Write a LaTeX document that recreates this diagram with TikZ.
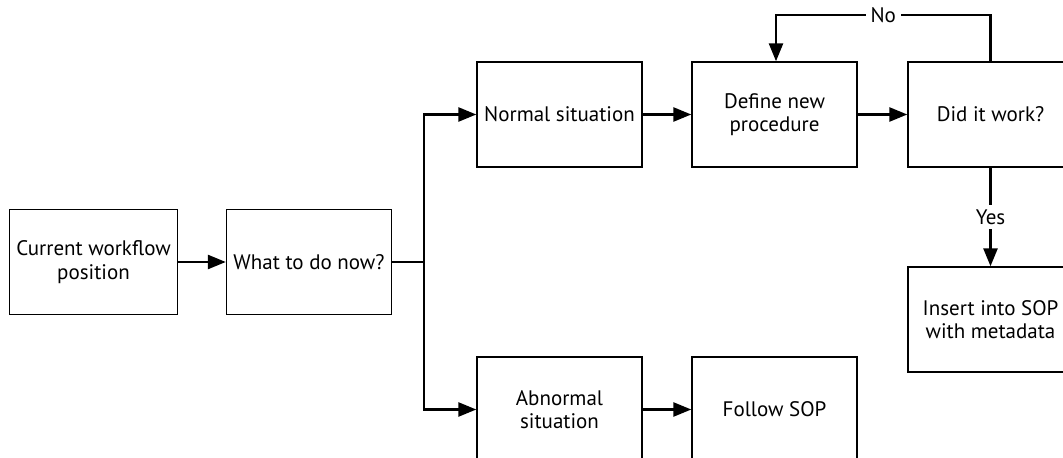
\documentclass[tikz,border=0pt]{standalone}
\usepackage{fontspec}
\setmainfont{PT Sans}
\usetikzlibrary{arrows.meta}
\usetikzlibrary{calc}

\begin{document}
\begin{tikzpicture}[x=0.5pt,y=-0.5pt]
      \tikzset{stage/.style = {shape=rectangle,draw,line width=0.7pt,minimum width=82.5pt,minimum height=52.5pt,align=center,font=\fontsize{10.5}{11.8}\selectfont}}
      \tikzset{flow/.style = {-{Triangle[length=9pt,width=7pt]},line width=1.3pt}}
      \tikzset{plain/.style = {-,line width=1.3pt}}
      \tikzset{answer/.style = {fill=white,inner sep=2.5pt,font=\fontsize{10.5}{11.8}\selectfont}}
      \clip (0,0) rectangle (1063,458);
      \node[stage] (cur) at (93.5, 262) {Current workflow\\position};
      \node[stage] (what) at (309, 262) {What to do now?};
      \node[stage] (normal) at (559.5, 114.5) {Normal situation};
      \node[stage] (define) at (774.5, 114.5) {Define new\\procedure};
      \node[stage] (did) at (990.5, 114.5) {Did it work?};
      \node[stage] (insert) at (990.5, 319.5) {Insert into SOP\\with metadata};
      \node[stage] (abnormal) at (559.5, 409.5) {Abnormal\\situation};
      \node[stage] (follow) at (774.5, 409.5) {Follow SOP};
      \coordinate (split) at (424, 262);
      \coordinate (turn) at (776, 15);

      \draw[flow] (cur) to (what);
      \draw[plain] (what) to (split);
      \draw[flow] (split) |- (normal);
      \draw[flow] (split) |- (abnormal);
      \draw[flow] (normal) to (define);
      \draw[flow] (define) to (did);
      \draw[flow] (abnormal) to (follow);
      \draw[flow] (did.north) |- node[pos=0.75,answer] (no) {No} (turn) to (define.north -| turn);
      \draw[flow] (did) to node[midway,answer] (yes) {Yes} (insert);
    \end{tikzpicture}
\end{document}
